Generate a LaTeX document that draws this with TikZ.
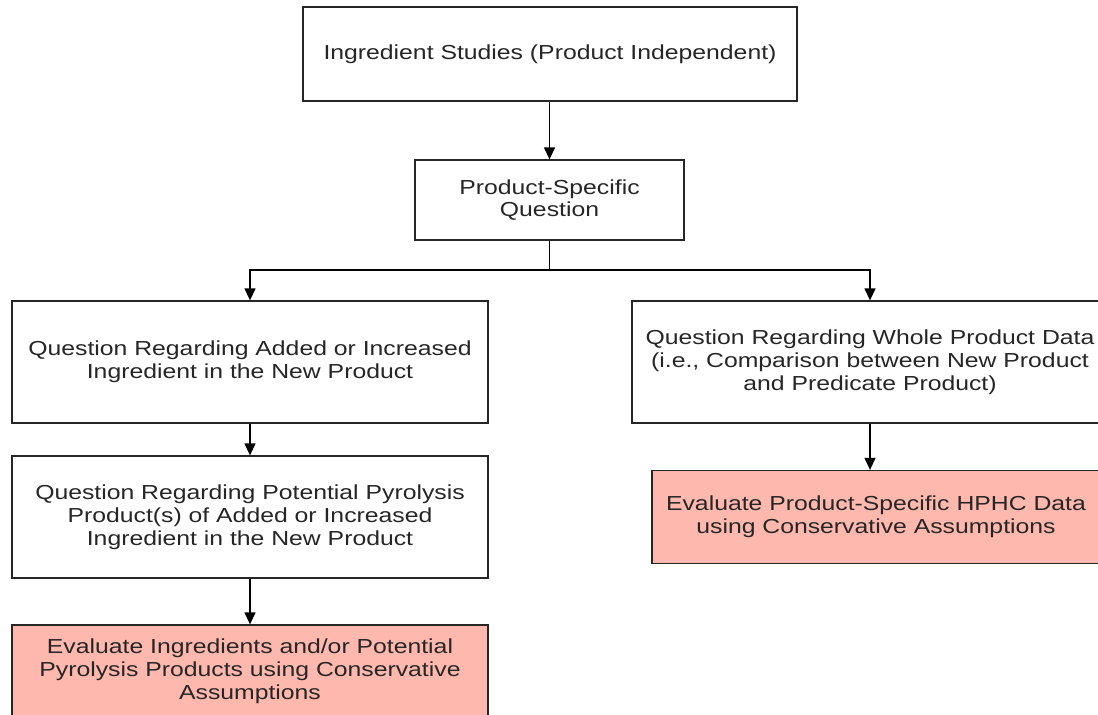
\documentclass[tikz,border=0pt]{standalone}
\usepackage{fontspec}
\setmainfont{Liberation Sans}[FakeStretch=1.22]
\usetikzlibrary{arrows.meta}
\definecolor{evalpink}{RGB}{255,184,174}
\definecolor{edgegray}{RGB}{38,38,38}
\tikzset{
  box/.style={draw=edgegray, line width=1.3pt, fill=white, align=center,
    inner sep=0pt, text=black!85, font=\fontsize{20.3}{22.8}\selectfont},
  evalbox/.style={box, fill=evalpink},
  link/.style={draw=black, line width=1.3pt, -{Triangle[length=12pt,width=11pt]}},
  joint/.style={draw=black, line width=1.3pt}
}
\begin{document}
\begin{tikzpicture}[x=1pt,y=-1pt]
  \useasboundingbox (0,0) rectangle (1098,715);
  \node[box, minimum width=494pt, minimum height=94pt] (studies) at (550,54)
    {Ingredient Studies (Product Independent)};
  \node[box, minimum width=269pt, minimum height=80pt] (question) at (549.5,200)
    {Product-Specific\\Question};
  \node[box, minimum width=476pt, minimum height=122pt] (added) at (250,362)
    {Question Regarding Added or Increased\\Ingredient in the New Product};
  \node[box, minimum width=476pt, minimum height=122pt] (whole) at (870,362)
    {Question Regarding Whole Product Data\\(i.e., Comparison between New Product\\and Predicate Product)};
  \node[box, minimum width=476pt, minimum height=122pt] (pyro) at (250,517)
    {Question Regarding Potential Pyrolysis\\Product(s) of Added or Increased\\Ingredient in the New Product};
  \node[evalbox, minimum width=448pt, minimum height=93pt] (hphc) at (876,517)
    {Evaluate Product-Specific HPHC Data\\using Conservative Assumptions};
  \node[evalbox, minimum width=476pt, minimum height=92pt] (ingr) at (250,671)
    {Evaluate Ingredients and/or Potential\\Pyrolysis Products using Conservative\\Assumptions};
  \coordinate (split) at (549.5,270);
  \draw[link] (studies.south -| question) -- (question.north);
  \draw[joint] (question.south) -- (split);
  \draw[link] (split) -| (added.north);
  \draw[link] (split) -| (whole.north);
  \draw[link] (added) -- (pyro);
  \draw[link] (pyro) -- (ingr);
  \draw[link] (whole.south) -- (whole.south |- hphc.north);
\end{tikzpicture}
\end{document}
